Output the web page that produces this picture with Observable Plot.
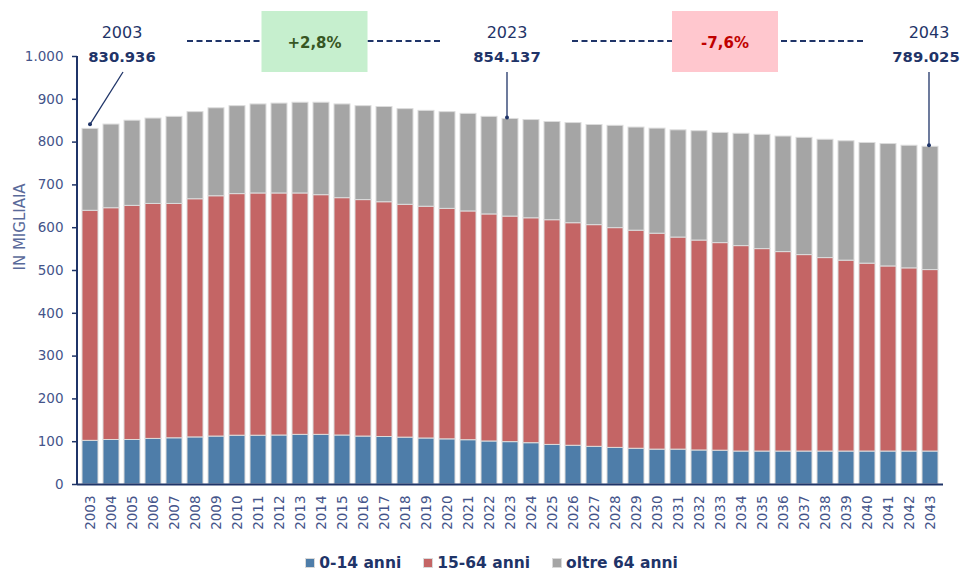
<!DOCTYPE html>
<html>
<head>
<meta charset="utf-8">
<script src="https://cdn.jsdelivr.net/npm/d3@7"></script>
<script src="https://cdn.jsdelivr.net/npm/@observablehq/plot@0.6"></script>
<style>
  html, body { margin: 0; padding: 0; background: #fff; }
  body { width: 963px; height: 572px; overflow: hidden; font-family: "DejaVu Sans", sans-serif; }
  #legend { display: flex; justify-content: center; align-items: center; gap: 22px; margin-top: 23px; padding-left: 20px;
            font-weight: bold; font-size: 15.5px; color: #1F3468; line-height: 20px; }
  #legend .item { display: flex; align-items: center; gap: 4px; }
  #legend .sw { width: 10px; height: 10px; box-sizing: border-box; border: 1px solid #d9d9d9; }
</style>
</head>
<body>
<div id="chart"></div>
<div id="legend"></div>
<script>
// ---- data (thousands of residents) ----
const years = d3.range(2003, 2044);
const groups = ["0-14 anni", "15-64 anni", "oltre 64 anni"];
const colors = ["#4E7DA9", "#C46565", "#A5A5A5"];

const age0_14 = [102, 104, 104, 106.5, 108, 110, 112, 114, 114, 114.5, 116, 116, 114.5, 112, 111, 109.5, 107.5, 105.5, 103.5, 100.5,
  99, 96.5, 92.5, 90.5, 88, 85.5, 83.5, 81.5, 81.5, 79.5, 79, 77, 77, 77, 77, 77, 77, 77, 77, 77, 77];
const age15_64 = [537.5, 541.5, 547, 549, 547.5, 556.5, 561.5, 564.5, 566, 565.5, 564, 560, 554.5, 552.5, 548.5, 544, 541.5, 538.5, 534.5, 530.5,
  527, 525.5, 525, 520, 518, 513.5, 509.5, 504.5, 495.5, 490.5, 485, 480, 473, 466, 459, 452, 446, 439, 432.5, 428, 424];
const age65plus = [191.4, 195.5, 199, 199.5, 203.5, 203.5, 205.5, 205.5, 208, 210, 212, 216, 219, 219.5, 222.5, 223.5, 224, 226, 228, 228,
  228.1, 229.5, 229.5, 234, 234, 239, 241, 245.5, 250.5, 255.5, 257.5, 262.5, 267, 270, 274, 276.5, 279, 282, 286, 286.5, 288];

const yTicks = d3.range(0, 1001, 100);

// annotations
const annYears = [2003, 2023, 2043];
const annTotals = [830.936, 854.137, 789.025];
const annLabels = ["830.936", "854.137", "789.025"];
const changeLabels = ["+2,8%", "-7,6%"];
const changeFills = ["#C6EFCE", "#FFC7CE"];
const changeColors = ["#375623", "#C00000"];

// ---- build table ----
const series = [age0_14, age15_64, age65plus];
const data = [];
groups.forEach((g, gi) => years.forEach((yr, i) => data.push({year: yr, group: g, value: series[gi][i]})));

const it = d3.formatLocale({decimal: ",", thousands: ".", grouping: [3], currency: ["", " €"]});
const fmt = it.format(",");

const navy = "#1F3468";
const tickColor = "#44548A";

const chart = Plot.plot({
  width: 963,
  height: 530,
  marginLeft: 77,
  marginRight: 20,
  marginTop: 56,
  marginBottom: 46,
  style: {fontFamily: "DejaVu Sans, sans-serif", background: "#fff", overflow: "visible"},
  x: {type: "band", domain: years, paddingInner: 0.256, paddingOuter: 0.16, axis: null},
  y: {domain: [0, 1000], axis: null},
  color: {domain: groups, range: colors},
  marks: [
    Plot.barY(data, {x: "year", y: "value", fill: "group", stroke: "#dcdcdc", strokeWidth: 1}),
    Plot.axisY({ticks: yTicks, text: null, tickSize: 5, stroke: navy, strokeWidth: 1.5, label: null}),
    Plot.text(yTicks, {y: d => d, text: fmt, frameAnchor: "left", textAnchor: "end", dx: -14, fontSize: 13.5, fill: tickColor}),
    Plot.axisX({tickFormat: d => String(d), tickRotate: -90, tickSize: 0, tickPadding: 11, fontSize: 13.5, color: tickColor, label: null}),
    Plot.ruleY([0], {stroke: navy, strokeWidth: 2}),
    Plot.text(["IN MIGLIAIA"], {frameAnchor: "left", rotate: -90, dx: -57, fontSize: 15, fill: "#5A6A9A"})
  ]
});
document.getElementById("chart").appendChild(chart);

// ---- overlay annotations using Plot's scales ----
const xs = chart.scale("x"), ys = chart.scale("y");
const xc = yr => xs.apply(yr) + xs.bandwidth / 2;
const yTop = ys.apply(1000), yBottom = ys.apply(0);
const svg = d3.select(chart);
const g = svg.append("g").attr("font-family", "DejaVu Sans, sans-serif");

// left axis line
g.append("line").attr("x1", 77).attr("x2", 77).attr("y1", yTop).attr("y2", yBottom + 1)
  .attr("stroke", navy).attr("stroke-width", 2);

const labelDx = [32, -3, -1];
const valueDx = [0, 0, -3];
const centers = annYears.map((yr, i) => xc(yr) + labelDx[i]);

annYears.forEach((yr, i) => {
  const cx = centers[i];
  g.append("text").attr("x", cx).attr("y", yTop - 18).attr("text-anchor", "middle")
    .attr("font-size", 16).attr("fill", navy).text(String(yr));
  g.append("text").attr("x", cx + valueDx[i]).attr("y", yTop + 6).attr("text-anchor", "middle")
    .attr("font-size", 14.8).attr("font-weight", "bold").attr("fill", navy).text(annLabels[i]);
  const bx = xc(yr) + (i === 0 ? 0 : labelDx[i]);
  const by = ys.apply(annTotals[i]) - (i === 0 ? 4 : 1);
  g.append("line").attr("x1", cx + (i === 0 ? 1 : 0)).attr("y1", yTop + 16).attr("x2", bx).attr("y2", by)
    .attr("stroke", navy).attr("stroke-width", 1.3);
  g.append("circle").attr("cx", bx).attr("cy", by).attr("r", 2).attr("fill", navy);
});

const boxDx = [0, 7];
changeLabels.forEach((lab, i) => {
  const a = centers[i], b = centers[i + 1];
  const mid = (a + b) / 2 + boxDx[i];
  g.append("line").attr("x1", a + 65).attr("x2", b - 65).attr("y1", yTop - 15).attr("y2", yTop - 15)
    .attr("stroke", navy).attr("stroke-width", 1.8).attr("stroke-dasharray", "6,3.5");
  g.append("rect").attr("x", mid - 53).attr("y", yTop - 45).attr("width", 106).attr("height", 61)
    .attr("fill", changeFills[i]);
  g.append("text").attr("x", mid).attr("y", yTop - 8).attr("text-anchor", "middle")
    .attr("font-size", 15).attr("font-weight", "bold").attr("fill", changeColors[i]).text(lab);
});

// ---- legend ----
const legend = d3.select("#legend");
groups.forEach((gname, i) => {
  const item = legend.append("div").attr("class", "item");
  item.append("div").attr("class", "sw").style("background", colors[i]);
  item.append("span").text(gname);
});
</script>
</body>
</html>
